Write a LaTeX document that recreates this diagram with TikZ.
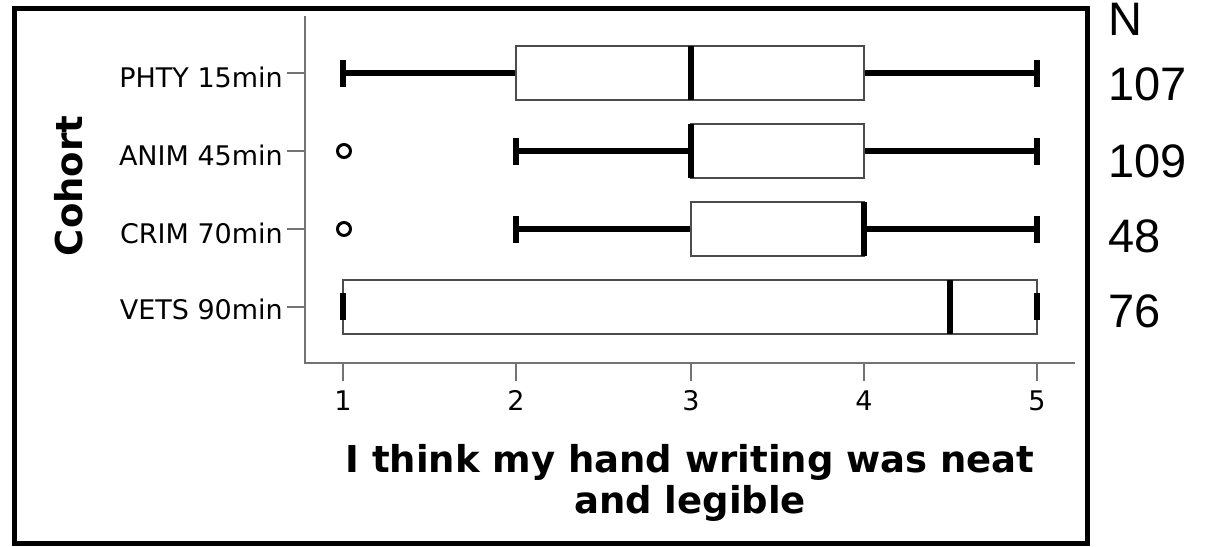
\documentclass[tikz,border=0pt]{standalone}
\usepackage{fontspec}
\setmainfont{DejaVu Sans}
\newfontfamily\arialf{Liberation Sans}
\begin{document}
\begin{tikzpicture}[x=1pt,y=-1pt,
  frame/.style={draw=black,line width=5pt},
  axisln/.style={draw=black!55,line width=2pt},
  whisk/.style={draw=black,line width=6pt},
  capln/.style={draw=black,line width=6.5pt},
  boxst/.style={draw=black!70,line width=2pt,fill=white},
  med/.style={draw=black,line width=6.5pt},
  outl/.style={draw=black,line width=3pt},
  ylab/.style={anchor=base east,inner sep=0pt,font=\fontsize{27}{32}\selectfont},
  xlab/.style={anchor=base,inner sep=0pt,font=\fontsize{27}{32}\selectfont},
  ttl/.style={inner sep=0pt,font=\fontsize{37}{44}\selectfont\bfseries},
  nlab/.style={anchor=base west,inner sep=0pt,font=\arialf\fontsize{47}{56}\selectfont}]
\useasboundingbox (0,0) rectangle (1207,546);
\clip (0,0) rectangle (1207,546);
\fill[white] (0,0) rectangle (1207,546);
% outer frame
\draw[frame] (14,8) rectangle (1087,543.5);
% axes
\draw[axisln] (305,16) -- (305,363) -- (1075,363);
\foreach \yy in {73,151,229,307} {\draw[axisln] (287,\yy) -- (305,\yy);}
\foreach \xx/\lab [count=\i] in {343/1,516/2,691/3,864/4,1037/5} {
  \draw[axisln] (\xx,363) -- (\xx,381);
  \node[xlab] (xt\i) at (\xx,410) {\lab};
}
% y labels
\node[ylab] (lphty) at (283,87) {PHTY 15min};
\node[ylab] (lanim) at (283,165) {ANIM 45min};
\node[ylab] (lcrim) at (283,243) {CRIM 70min};
\node[ylab] (lvets) at (283,319) {VETS 90min};
% axis titles
\node[ttl,rotate=90,anchor=base] (ytitle) at (82,186) {Cohort};
\node[ttl,anchor=base] (xtitle1) at (690,472) {I think my hand writing was neat};
\node[ttl,anchor=base] (xtitle2) at (690,513) {and legible};
% PHTY
\draw[whisk] (343,73) -- (516,73);
\draw[whisk] (864,73) -- (1037,73);
\draw[capln] (343,60) -- (343,87);
\draw[capln] (1037,60) -- (1037,87);
\draw[boxst] (516,46) rectangle (864,100);
\draw[med] (691,46) -- (691,100);
% ANIM
\draw[outl] (344,151) circle (6.5);
\draw[whisk] (516,151) -- (691,151);
\draw[whisk] (864,151) -- (1037,151);
\draw[capln] (516,138) -- (516,165);
\draw[capln] (1037,138) -- (1037,165);
\draw[boxst] (691,124) rectangle (864,178);
\draw[med] (691,124) -- (691,178);
% CRIM
\draw[outl] (344,229) circle (6.5);
\draw[whisk] (516,229) -- (691,229);
\draw[whisk] (864,229) -- (1037,229);
\draw[capln] (516,216) -- (516,243);
\draw[capln] (1037,216) -- (1037,243);
\draw[boxst] (691,202) rectangle (864,256);
\draw[med] (864,202) -- (864,256);
% VETS
\draw[boxst] (343,280) rectangle (1037,334);
\draw[med] (950,280) -- (950,334);
\draw[capln] (343,293) -- (343,320);
\draw[capln] (1037,293) -- (1037,320);
% N column
\node[nlab] (nh) at (1108,35) {N};
\node[nlab] (n1) at (1108,100) {107};
\node[nlab] (n2) at (1108,177) {109};
\node[nlab] (n3) at (1108,252) {48};
\node[nlab] (n4) at (1108,327) {76};
\end{tikzpicture}
\end{document}
